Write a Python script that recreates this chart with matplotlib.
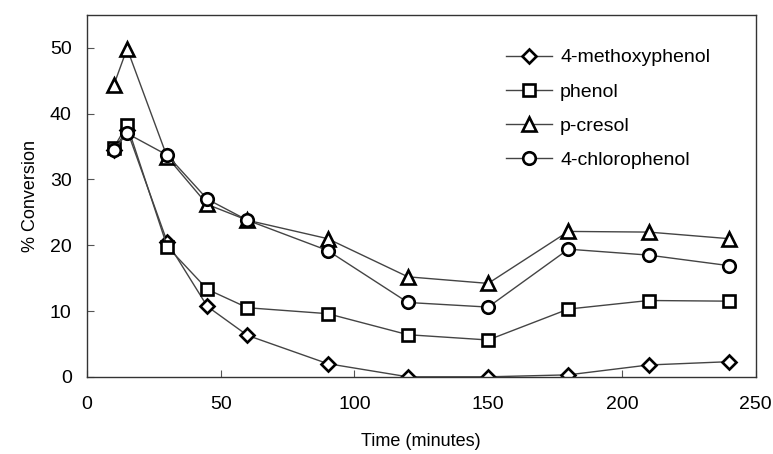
import matplotlib
matplotlib.use("Agg")
import matplotlib.pyplot as plt

# === DATA ===
time_min = [10, 15, 30, 45, 60, 90, 120, 150, 180, 210, 240]
methoxyphenol = [34.5, 37.5, 20.5, 10.7, 6.3, 2.0, 0.0, 0.0, 0.3, 1.8, 2.3]
phenol = [34.8, 38.3, 19.8, 13.3, 10.5, 9.6, 6.4, 5.6, 10.3, 11.6, 11.5]
p_cresol = [44.3, 49.9, 33.4, 26.2, 23.8, 21.0, 15.2, 14.2, 22.1, 22.0, 21.0]
chlorophenol = [34.5, 37.0, 33.7, 27.0, 23.8, 19.2, 11.3, 10.6, 19.4, 18.5, 16.9]

series = [
    ("4-methoxyphenol", methoxyphenol, "D", 7),
    ("phenol", phenol, "s", 9),
    ("p-cresol", p_cresol, "^", 10),
    ("4-chlorophenol", chlorophenol, "o", 9),
]

plt.rcParams['font.family'] = ['Liberation Sans', 'DejaVu Sans']

fig = plt.figure(figsize=(7.73, 4.54), dpi=100)
ax = fig.add_axes([0.1125, 0.170, 0.865, 0.797])

for name, vals, mk, ms in series:
    ax.plot(time_min, vals, color="#444444", lw=1.0, marker=mk, markersize=ms,
            markerfacecolor="white", markeredgecolor="black", markeredgewidth=1.9,
            label=name)

ax.set_xlim(0, 250)
ax.set_ylim(0, 55)
ax.set_xticks(range(0, 251, 50))
ax.set_yticks(range(0, 51, 10))
ax.tick_params(direction="in", labelsize=14, length=5, color="#555555")
ax.tick_params(axis="x", pad=14)
ax.tick_params(axis="y", pad=11)
for s in ax.spines.values():
    s.set_color("#333333")
    s.set_linewidth(1.0)

ax.set_xlabel("Time (minutes)", fontsize=13, labelpad=14)
ax.set_ylabel("% Conversion", fontsize=13, labelpad=8)

ax.legend(loc="upper left", bbox_to_anchor=(0.60, 0.955), frameon=False,
          fontsize=14, handlelength=2.4, handletextpad=0.4, labelspacing=0.85)

fig.savefig("out.png", dpi=100)
